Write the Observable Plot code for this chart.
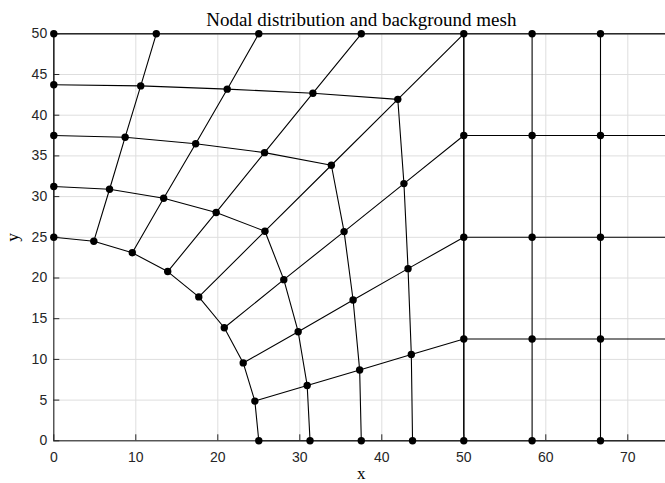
<!DOCTYPE html>
<html><head><meta charset="utf-8">
<script src="https://cdn.jsdelivr.net/npm/d3@7"></script>
<script src="https://cdn.jsdelivr.net/npm/@observablehq/plot@0.6"></script>
<style>html,body{margin:0;padding:0;background:#fff;overflow:hidden} svg{display:block}</style>
</head><body><div id="chart"></div>
<script>
// Curved mesh rings (j = 0 hole arc ... j = 4 outer boundary), nodes i = 0..8 from bottom to left
const ring0X = [25, 24.52, 23.10, 20.79, 17.68, 13.89, 9.57, 4.88, 0];
const ring0Y = [0, 4.88, 9.57, 13.89, 17.68, 20.79, 23.10, 24.52, 25];
const ring1X = [31.25, 30.9, 29.8, 28.05, 25.75, 19.8, 13.4, 6.8, 0];
const ring1Y = [0, 6.8, 13.4, 19.8, 25.75, 28.05, 29.8, 30.9, 31.25];
const ring2X = [37.5, 37.3, 36.5, 35.4, 33.85, 25.7, 17.3, 8.7, 0];
const ring2Y = [0, 8.7, 17.3, 25.7, 33.85, 35.4, 36.5, 37.3, 37.5];
const ring3X = [43.75, 43.6, 43.2, 42.7, 41.95, 31.6, 21.15, 10.6, 0];
const ring3Y = [0, 10.6, 21.15, 31.6, 41.95, 42.7, 43.2, 43.6, 43.75];
const ring4X = [50, 50, 50, 50, 50, 37.5, 25, 12.5, 0];
const ring4Y = [0, 12.5, 25, 37.5, 50, 50, 50, 50, 50];
// Background rectangular mesh
const bgX = [50, 58.33, 66.67, 75];
const bgY = [0, 12.5, 25, 37.5, 50];
// Axes
const xTicks = [0, 10, 20, 30, 40, 50, 60, 70];
const yTicks = [0, 5, 10, 15, 20, 25, 30, 35, 40, 45, 50];
const titleText = "Nodal distribution and background mesh";
const xLabel = "x";
const yLabel = "y";

const ringsX = [ring0X, ring1X, ring2X, ring3X, ring4X];
const ringsY = [ring0Y, ring1Y, ring2Y, ring3Y, ring4Y];

const segs = [];
const nodes = [];
// circumferential lines
ringsX.forEach((rx, j) => rx.forEach((x, i) => segs.push({id: "c" + j, x, y: ringsY[j][i]})));
// radial lines
for (let i = 0; i < 9; i++) for (let j = 0; j < 5; j++) segs.push({id: "r" + i, x: ringsX[j][i], y: ringsY[j][i]});
ringsX.forEach((rx, j) => rx.forEach((x, i) => nodes.push({x, y: ringsY[j][i]})));
// background mesh
bgY.forEach((y, k) => bgX.forEach(x => segs.push({id: "h" + k, x, y})));
bgX.forEach((x, k) => bgY.forEach(y => segs.push({id: "v" + k, x, y})));
bgX.slice(1).forEach(x => bgY.forEach(y => nodes.push({x, y})));

const W = 665, H = 483, ML = 53.3, MR = -3.3, MT = 33.3, MB = 42.7;
const axisColor = "#262626";
const tickFont = "Liberation Sans, Arial, sans-serif";
const serif = "Liberation Serif, Times New Roman, serif";

const chart = Plot.plot({
  width: W, height: H,
  marginLeft: ML, marginRight: MR, marginTop: MT, marginBottom: MB,
  x: {domain: [0, 75], label: null},
  y: {domain: [0, 50], label: null},
  style: {background: "#fff"},
  marks: [
    Plot.gridX(xTicks, {stroke: "#dedede", strokeOpacity: 1, strokeWidth: 1}),
    Plot.gridY(yTicks, {stroke: "#dedede", strokeOpacity: 1, strokeWidth: 1}),
    Plot.line(segs, {x: "x", y: "y", z: "id", stroke: "black", strokeWidth: 1.1}),
    Plot.frame({stroke: axisColor, strokeWidth: 1.1}),
    Plot.tickX(xTicks, {x: d => d, insetTop: (H - MT - MB) - 6, stroke: axisColor}),
    Plot.tickY(yTicks, {y: d => d, insetRight: (W - ML - MR) - 6, stroke: axisColor}),
    Plot.dot(nodes, {x: "x", y: "y", r: 3.7, fill: "black", stroke: "none"}),
    Plot.axisX(xTicks, {tickSize: 0, tickPadding: 11, fontSize: 14, fontFamily: tickFont, fill: axisColor, label: null, tickFormat: d => String(d)}),
    Plot.axisY(yTicks, {tickSize: 0, tickPadding: 6.6, fontSize: 14, fontFamily: tickFont, fill: axisColor, label: null, tickFormat: d => String(d)}),
    Plot.text([titleText], {text: d => d, frameAnchor: "top", dy: -14.2, fontFamily: serif, fontSize: 19, fill: "black", textAnchor: "middle", lineAnchor: "middle"}),
    Plot.text([xLabel], {text: d => d, frameAnchor: "bottom", dy: 32.5, fontFamily: serif, fontSize: 17, fill: "black", textAnchor: "middle", lineAnchor: "middle"}),
    Plot.text([yLabel], {text: d => d, frameAnchor: "left", dx: -41, rotate: -90, fontFamily: serif, fontSize: 17.5, fill: "black", textAnchor: "middle", lineAnchor: "middle"})
  ]
});
document.getElementById("chart").appendChild(chart);
</script>
</body></html>
